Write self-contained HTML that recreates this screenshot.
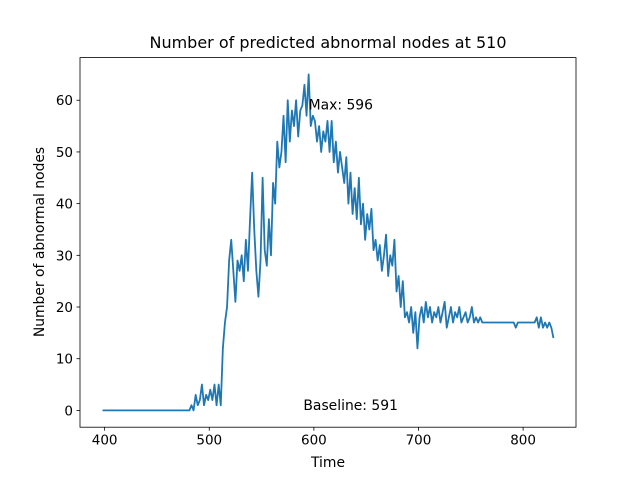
<!DOCTYPE html>
<html><head><meta charset="utf-8"><style>
body{margin:0;background:#fff}
svg{display:block;font-family:"DejaVu Sans","Liberation Sans",sans-serif}
</style></head><body>
<svg id="chart" width="640" height="480">
<rect width="640" height="480" fill="#fff"/>
<polyline id="series" fill="none" stroke="#1f77b4" stroke-width="1.8" stroke-linejoin="round"/>
<rect x="80" y="57.6" width="496" height="369.6" fill="none" stroke="#000" stroke-width="0.8"/>
<g id="ticks"></g>
<text x="328" y="48" text-anchor="middle" font-size="16">Number of predicted abnormal nodes at 510</text>
<text x="328" y="467" text-anchor="middle" font-size="13.9">Time</text>
<text transform="translate(44,242) rotate(-90)" text-anchor="middle" font-size="13.9">Number of abnormal nodes</text>
<text id="maxLabel" font-size="13.9">Max: 596</text>
<text id="baseLabel" font-size="13.9">Baseline: 591</text>
</svg>
<script>
const baseTimes = [398, 481];
const baseValues = [0, 0];
const startTime = 483;
const timeStep = 2;
const values = [
1,0,3,1,2,5,1,3,2,4,
2,5,1,5,1,12,17,20,29,33,
27,21,29,27,30,25,33,27,37,46,
35,27,22,29,45,31,28,37,30,44,
40,52,47,50,57,48,60,52,58,55,
60,53,58,59,63,57,65,55,57,56,
52,55,50,54,52,56,50,56,48,52,
46,50,47,44,49,40,46,38,43,37,
45,36,40,33,38,35,39,31,33,29,
32,27,30,34,26,30,28,33,23,26,
20,25,18,19,17,20,15,19,12,18,
20,17,21,18,20,17,19,18,20,17,
19,21,16,18,20,17,19,18,20,17,
18,19,17,18,20,17,18,17,18,17,
17,17,17,17,17,17,17,17,17,17,
17,17,17,17,17,16,17,17,17,17,
17,17,17,17,17,18,16,18,16,17,
16,17,16,14];
const xTicks = [400, 500, 600, 700, 800];
const yTicks = [0, 10, 20, 30, 40, 50, 60];
const maxPoint = [595, 59.2];
const basePoint = [590, 0.3];

const X0=80,X1=576,Y0=427.2,Y1=57.6;
const xmin=376.45,xmax=850.55,ymin=-3.25,ymax=68.25;
const xs=v=>X0+(v-xmin)/(xmax-xmin)*(X1-X0);
const ys=v=>Y0-(v-ymin)/(ymax-ymin)*(Y0-Y1);
const NS="http://www.w3.org/2000/svg";
const pts=[];
baseTimes.forEach((t,i)=>pts.push(xs(t).toFixed(2)+","+ys(baseValues[i]).toFixed(2)));
values.forEach((v,i)=>pts.push(xs(startTime+i*timeStep).toFixed(2)+","+ys(v).toFixed(2)));
document.getElementById("series").setAttribute("points",pts.join(" "));
const tg=document.getElementById("ticks");
function mk(tag,attrs){const e=document.createElementNS(NS,tag);for(const k in attrs)e.setAttribute(k,attrs[k]);tg.appendChild(e);return e;}
xTicks.forEach(t=>{
  const x=xs(t);
  const l=mk("line",{x1:x,x2:x,y1:Y0,y2:Y0+3.5,stroke:"#000","stroke-width":0.8});
  
  
  const tx=mk("text",{x:x,y:Y0+17.5,"text-anchor":"middle","font-size":13.5});
  tx.textContent=t;
  
  
});
yTicks.forEach(t=>{
  const y=ys(t);
  const l=mk("line",{x1:X0-3.5,x2:X0,y1:y,y2:y,stroke:"#000","stroke-width":0.8});
  
  
  const tx=mk("text",{x:X0-7,y:y+5,"text-anchor":"end","font-size":13.5});
  tx.textContent=t;
  
  
});
const ml=document.getElementById("maxLabel");ml.setAttribute("x",xs(maxPoint[0]));ml.setAttribute("y",ys(maxPoint[1])+5);
const bl=document.getElementById("baseLabel");bl.setAttribute("x",xs(basePoint[0]));bl.setAttribute("y",ys(basePoint[1])+1);
</script>
</body></html>
